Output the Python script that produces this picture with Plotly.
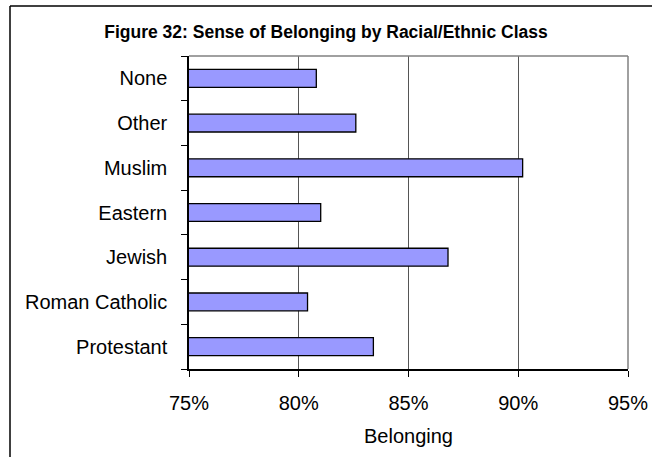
import plotly.graph_objects as go

categories = ["Protestant", "Roman Catholic", "Jewish", "Eastern", "Muslim", "Other", "None"]
belonging = [0.834, 0.804, 0.868, 0.810, 0.902, 0.826, 0.808]
x_ticks = [0.75, 0.80, 0.85, 0.90, 0.95]
x_tick_labels = ["75%", "80%", "85%", "90%", "95%"]

W, H = 652, 457
L, R, T, B = 189, 24, 56, 88
pw, ph = W - L - R, H - T - B

def px(x):
    return (x - L) / pw

def py(y):
    return (H - B - y) / ph

FONT = "Liberation Sans, Arial, sans-serif"
fig = go.Figure(
    go.Bar(
        x=belonging,
        y=categories,
        orientation="h",
        marker=dict(color="#9999FF", line=dict(color="#000000", width=1.3)),
        hoverinfo="x+y",
    )
)

fig.update_layout(
    width=W,
    height=H,
    margin=dict(l=L, r=R, t=T, b=B, pad=0, autoexpand=False),
    paper_bgcolor="white",
    plot_bgcolor="white",
    bargap=0.6,
    showlegend=False,
    font=dict(family=FONT, color="#000000", size=20),
    title=dict(
        text="<b>Figure 32: Sense of Belonging by Racial/Ethnic Class</b>",
        x=0.5,
        xref="container",
        xanchor="center",
        y=1 - 32 / H,
        yref="container",
        yanchor="middle",
        font=dict(size=17.5, family=FONT, color="#000000"),
    ),
    xaxis=dict(
        range=[0.75, 0.95],
        tickvals=x_ticks,
        ticktext=x_tick_labels,
        showgrid=True,
        gridcolor="#555555",
        gridwidth=1,
        showline=True,
        linecolor="#000000",
        linewidth=1.5,
        ticks="outside",
        ticklen=6,
        tickcolor="#000000",
        tickwidth=1.2,
        zeroline=False,
        automargin=False,
        ticklabelstandoff=9,
        title=dict(text="Belonging", standoff=16, font=dict(size=20)),
        tickfont=dict(size=20),
        fixedrange=True,
    ),
    yaxis=dict(
        type="category",
        categoryorder="array",
        categoryarray=categories,
        showgrid=False,
        showline=True,
        linecolor="#000000",
        linewidth=1.5,
        ticks="outside",
        tickson="boundaries",
        ticklen=6,
        tickcolor="#000000",
        tickwidth=1.2,
        automargin=False,
        tickfont=dict(size=20),
        ticklabelstandoff=16,
        fixedrange=True,
    ),
    shapes=[
        dict(type="line", xref="paper", yref="paper", x0=0, x1=1, y0=1, y1=1,
             line=dict(color="#808080", width=1.5)),
        dict(type="line", xref="paper", yref="paper", x0=1, x1=1, y0=0, y1=1,
             line=dict(color="#808080", width=1.5)),
        dict(type="line", xref="paper", yref="paper", x0=px(10), x1=px(10), y0=py(H + 20), y1=py(6),
             line=dict(color="#000000", width=1.5)),
        dict(type="line", xref="paper", yref="paper", x0=px(10), x1=px(W + 20), y0=py(6), y1=py(6),
             line=dict(color="#000000", width=1.5)),
    ],
)

fig.write_html(
    "out.html",
    config={"displayModeBar": False},
    post_script="document.body.style.margin='0';document.body.style.overflow='hidden';",
)
